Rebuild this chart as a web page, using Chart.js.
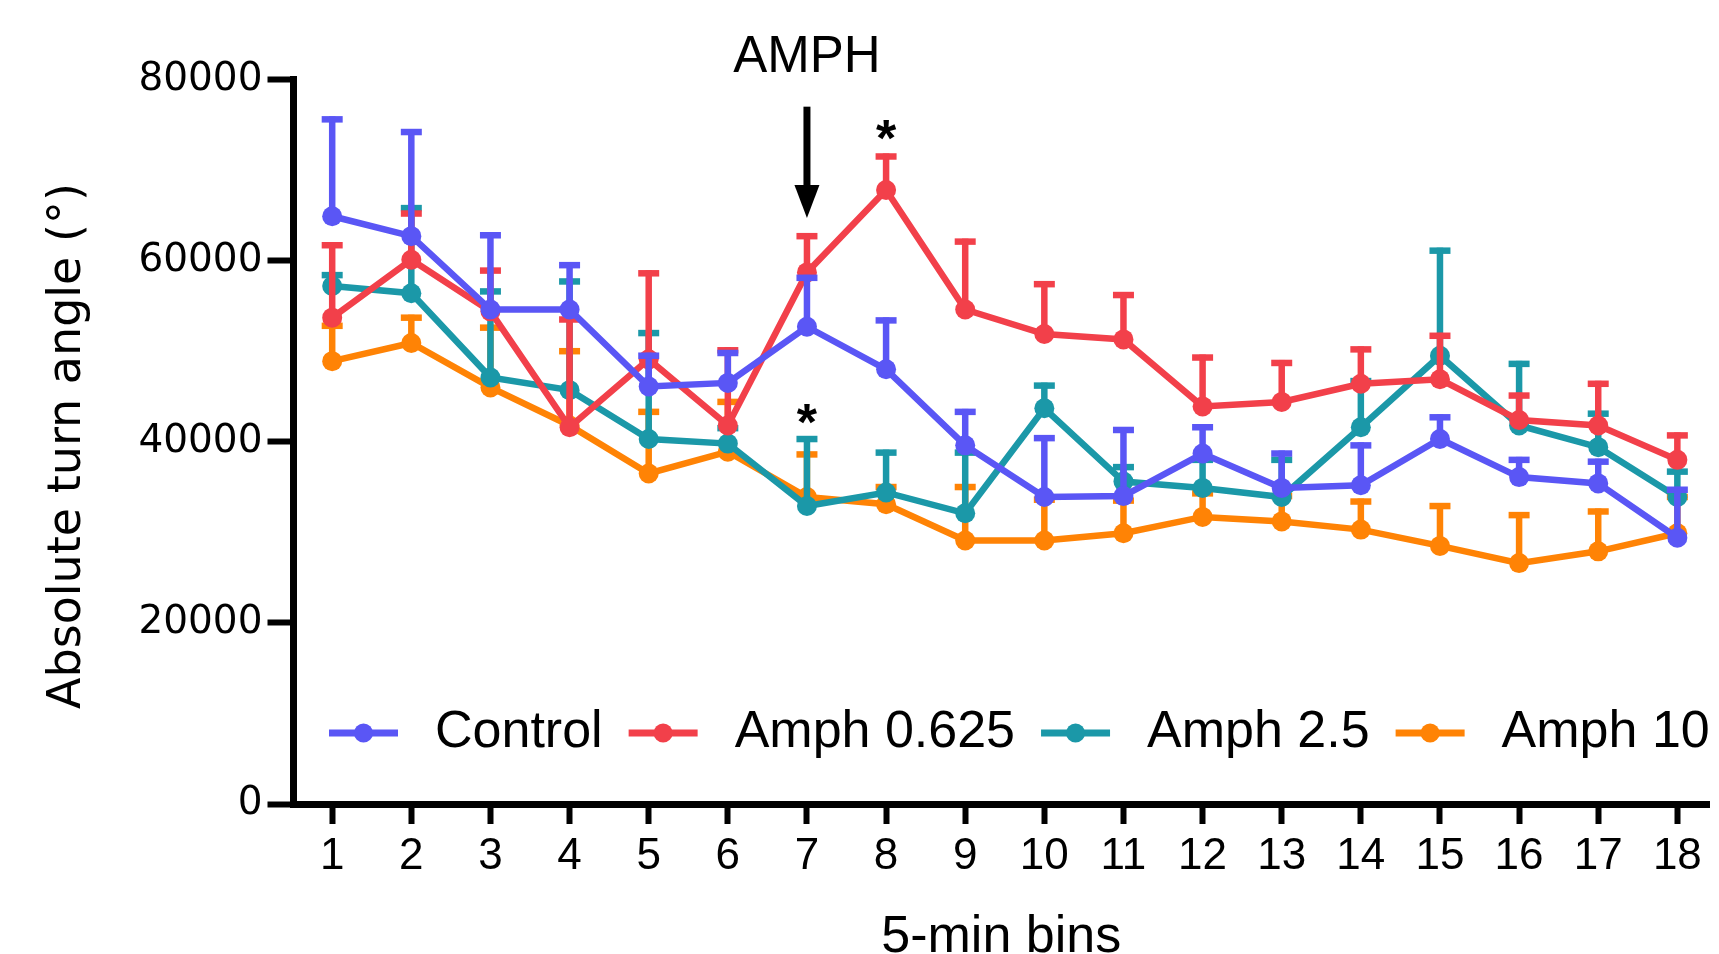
<!DOCTYPE html>
<html>
<head>
<meta charset="utf-8">
<title>Absolute turn angle</title>
<script src="https://cdn.jsdelivr.net/npm/chart.js"></script>
<style>
  html, body { margin: 0; padding: 0; background: #fff; overflow: hidden; }
  #myChart1 { display: block; }
</style>
</head>
<body>
<canvas id="myChart1" width="1719" height="954"></canvas>
<script>
// data (mean and mean+SEM)
var bins = [1, 2, 3, 4, 5, 6, 7, 8, 9, 10, 11, 12, 13, 14, 15, 16, 17, 18];
var yTicks = [0, 20000, 40000, 60000, 80000];
var seriesNames = ['Control', 'Amph 0.625', 'Amph 2.5', 'Amph 10'];
var seriesColors = ['#5a56f5', '#f2404a', '#1b98a8', '#ff8305'];

var control = [64900, 62700, 54600, 54600, 46100, 46500, 52700, 48000, 39600, 33900, 34000, 38700, 34900, 35200, 40300, 36100, 35400, 29400];
var controlTop = [75600, 74200, 62800, 59500, 49500, 49800, 58100, 53400, 43300, 40400, 41300, 41600, 38700, 39600, 42700, 38000, 37800, 34700];

var amph0625 = [53700, 60100, 54400, 41600, 49100, 41800, 58700, 67800, 54600, 51900, 51300, 43900, 44400, 46400, 46900, 42400, 41800, 38000];
var amph0625Top = [61700, 65200, 58900, 53500, 58600, 50100, 62700, 71500, 62100, 57400, 56200, 49300, 48700, 50200, 51700, 45100, 46400, 40700];

var amph25 = [57200, 56400, 47100, 45700, 40300, 39800, 32900, 34400, 32100, 43700, 35600, 34900, 33900, 41600, 49500, 41800, 39400, 33900];
var amph25Top = [58400, 65800, 56600, 57700, 52000, 41500, 40300, 38800, 38800, 46200, 37200, 38000, 38000, 46700, 61100, 48600, 43100, 36700];

var amph10 = [48900, 50900, 46000, 41800, 36500, 38900, 33900, 33100, 29100, 29100, 29900, 31700, 31200, 30300, 28500, 26600, 27900, 29900];
var amph10Top = [52800, 53700, 52600, 50000, 43300, 44400, 38600, 35000, 35000, 33600, 33500, 34300, 34000, 33400, 32900, 31900, 32300, 33900];

// significance marks: bin, value where the star sits
var stars = [{ bin: 8, value: 74600 }, { bin: 7, value: 43300 }];
var amphBin = 7;

var means = [control, amph0625, amph25, amph10];
var tops = [controlTop, amph0625Top, amph25Top, amph10Top];

function toPoints(arr) {
    return bins.map(function (b, i) { return { x: b, y: arr[i] }; });
}

var datasets = seriesNames.map(function (name, k) {
    return {
        label: name,
        data: toPoints(means[k]),
        borderColor: seriesColors[k],
        backgroundColor: seriesColors[k],
        pointBackgroundColor: seriesColors[k],
        pointBorderWidth: 0,
        pointRadius: 10,
        borderWidth: 6.5,
        tension: 0,
        clip: false
    };
});

// upward error bars, drawn just before each line so the dots sit on top
var errorBars = {
    id: 'errorBars',
    beforeDatasetDraw: function (chart, args) {
        var ctx = chart.ctx;
        var xs = chart.scales.x, ys = chart.scales.y;
        var k = args.index;
        ctx.save();
        ctx.strokeStyle = seriesColors[k];
        ctx.lineWidth = 6.5;
        ctx.lineCap = 'butt';
        bins.forEach(function (b, i) {
            var x = xs.getPixelForValue(b);
            var y0 = ys.getPixelForValue(means[k][i]);
            var y1 = ys.getPixelForValue(tops[k][i]);
            ctx.beginPath();
            ctx.moveTo(x, y0);
            ctx.lineTo(x, y1 - 3);
            ctx.stroke();
            ctx.beginPath();
            ctx.moveTo(x - 10.5, y1);
            ctx.lineTo(x + 10.5, y1);
            ctx.stroke();
        });
        ctx.restore();
    }
};

// AMPH arrow, stars, y title and the in-plot legend
var extras = {
    id: 'extras',
    afterDraw: function (chart) {
        var ctx = chart.ctx;
        var xs = chart.scales.x, ys = chart.scales.y;
        ctx.save();
        ctx.fillStyle = '#000';
        ctx.strokeStyle = '#000';

        var ax = xs.getPixelForValue(amphBin);
        ctx.font = '51px "Liberation Sans", Arial, sans-serif';
        ctx.textAlign = 'center';
        ctx.textBaseline = 'alphabetic';
        ctx.fillText('AMPH', ax, 72);
        var yTop = ys.getPixelForValue(77000);
        var yTip = ys.getPixelForValue(64700);
        ctx.lineWidth = 7;
        ctx.beginPath();
        ctx.moveTo(ax, yTop);
        ctx.lineTo(ax, yTip - 25);
        ctx.stroke();
        ctx.beginPath();
        ctx.moveTo(ax - 12.5, yTip - 33);
        ctx.lineTo(ax + 12.5, yTip - 33);
        ctx.lineTo(ax, yTip);
        ctx.closePath();
        ctx.fill();

        ctx.font = 'bold 52px "Liberation Sans", Arial, sans-serif';
        stars.forEach(function (s) {
            ctx.fillText('*', xs.getPixelForValue(s.bin), ys.getPixelForValue(s.value) + 28);
        });

        // y axis title
        ctx.save();
        ctx.translate(80, 446);
        ctx.rotate(-Math.PI / 2);
        ctx.font = '46px "DejaVu Sans", sans-serif';
        ctx.textAlign = 'center';
        ctx.fillText('Absolute turn angle (\u00B0)', 0, 0);
        ctx.restore();

        // legend row
        var lx = 329, ly = 733;
        ctx.font = '52px "Liberation Sans", Arial, sans-serif';
        ctx.textAlign = 'left';
        ctx.textBaseline = 'middle';
        seriesNames.forEach(function (name, k) {
            ctx.strokeStyle = seriesColors[k];
            ctx.fillStyle = seriesColors[k];
            ctx.lineWidth = 7;
            ctx.beginPath();
            ctx.moveTo(lx, ly);
            ctx.lineTo(lx + 69, ly);
            ctx.stroke();
            ctx.beginPath();
            ctx.arc(lx + 34.5, ly, 9.5, 0, Math.PI * 2);
            ctx.fill();
            lx += 69 + 37;
            ctx.fillStyle = '#000';
            ctx.fillText(name, lx, ly);
            lx += ctx.measureText(name).width + 26;
        });
        ctx.restore();
    }
};

var ctx = document.getElementById('myChart1');
var myChart = new Chart(ctx, {
    type: 'line',
    data: { datasets: datasets },
    plugins: [errorBars, extras],
    options: {
        responsive: false,
        devicePixelRatio: 1,
        animation: false,
        layout: { padding: { top: 79.5, right: 0, bottom: 0, left: 0 } },
        plugins: {
            legend: { display: false },
            tooltip: { enabled: false }
        },
        scales: {
            x: {
                type: 'linear',
                min: 0.511,
                max: 18.4,
                afterFit: function (s) { s.height = 150; },
                ticks: {
                    stepSize: 1,
                    includeBounds: false,
                    autoSkip: false,
                    maxRotation: 0,
                    padding: 6,
                    color: '#000',
                    font: { family: '"Liberation Sans", Arial, sans-serif', size: 44 }
                },
                grid: {
                    display: true,
                    drawOnChartArea: false,
                    drawTicks: true,
                    tickLength: 20,
                    tickWidth: 6,
                    tickColor: '#000',
                    color: '#000'
                },
                border: { display: true, color: '#000', width: 7 },
                title: {
                    display: true,
                    text: '5-min bins',
                    color: '#000',
                    padding: 0,
                    font: { family: '"Liberation Sans", Arial, sans-serif', size: 52, lineHeight: 0.62 }
                }
            },
            y: {
                min: 0,
                max: 80000,
                afterFit: function (s) { s.width = 293.5; },
                afterBuildTicks: function (s) {
                    s.ticks = yTicks.map(function (v) { return { value: v }; });
                },
                ticks: {
                    padding: 5,
                    color: '#000',
                    font: { family: '"DejaVu Sans", sans-serif', size: 39 },
                    callback: function (v) { return String(v); }
                },
                grid: {
                    display: true,
                    drawOnChartArea: false,
                    drawTicks: true,
                    tickLength: 26,
                    tickWidth: 6,
                    tickColor: '#000',
                    color: '#000'
                },
                border: { display: true, color: '#000', width: 7 }
            }
        }
    }
});
</script>
</body>
</html>
